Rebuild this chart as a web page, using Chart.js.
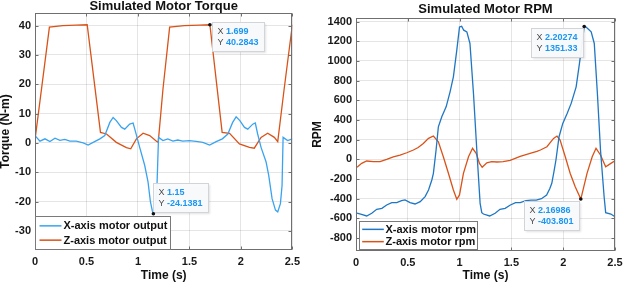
<!DOCTYPE html>
<html><head><meta charset="utf-8">
<script src="https://cdn.jsdelivr.net/npm/chart.js@4/dist/chart.umd.min.js"></script>
<style>
html,body{margin:0;padding:0;background:#fff;width:640px;height:303px;overflow:hidden}
canvas{position:absolute;top:0}
#c1{left:0}
#c2{left:305px}
</style></head><body>
<canvas id="c1" width="305" height="303" style="width:305px;height:303px"></canvas>
<canvas id="c2" width="335" height="303" style="width:335px;height:303px"></canvas>
<script>
const FONT = "'Liberation Sans', Arial, Helvetica, sans-serif";

// ---------- Torque chart ----------
const torqueXTime  = [0,0.048,0.097,0.145,0.194,0.242,0.29,0.339,0.4,0.468,0.516,0.565,0.63,0.678,0.727,0.759,0.79,0.84,0.872,0.92,0.953,0.978,1.017,1.066,1.098,1.121,1.14,1.15,1.17,1.185,1.2,1.243,1.29,1.34,1.387,1.436,1.5,1.565,1.63,1.696,1.76,1.82,1.873,1.92,1.954,1.99,2.035,2.067,2.115,2.14,2.163,2.196,2.245,2.27,2.303,2.336,2.358,2.384,2.4,2.41,2.454,2.5];
const torqueXValue = [2.5,0.6,1.4,0.5,1.6,0.9,1.2,0.6,0.6,0,-0.7,0.2,1.4,2.5,7.0,8.7,7.6,5.3,4.7,6.4,6.8,3.6,-1.5,-7.7,-13.3,-20,-23.2,-24.1381,-22.5,-14.5,1.9,0.8,1.4,0.6,1.0,0.6,0.8,0.5,0.2,-0.7,0.45,1.4,3.05,7.0,8.9,7.6,5.3,4.7,6.4,6.8,3.05,-1.5,-6.5,-11,-19,-22.9,-23.5,-20.7,-14.5,1.9,0.8,1.4];
const torqueZTime  = [0,0.14,0.27,0.40,0.507,0.636,0.695,0.79,0.888,0.93,0.985,1.05,1.114,1.18,1.197,1.243,1.308,1.45,1.60,1.699,1.818,1.89,1.986,2.083,2.13,2.196,2.26,2.325,2.358,2.42,2.5];
const torqueZValue = [1,39.5,40.0,40.2,40.3,3.6,3.05,0.2,-1.6,-2.0,1.4,3.3,2.5,0.6,0.2,18.3,39.5,40.0,40.2,40.2843,3.6,3.3,-0.3,-1.5,-1.8,1.9,3.3,1.9,0.45,18.3,40.3];
const torqueTicks  = [-30,-20,-10,0,10,20,30,40];
const torqueLabels = ['X-axis motor output','Z-axis motor output'];
const torqueTipX   = [1.699, 1.15];
const torqueTipY   = [40.2843, -24.1381];

// ---------- RPM chart ----------
const rpmXTime  = [0.01,0.053,0.103,0.152,0.2,0.25,0.296,0.345,0.393,0.44,0.473,0.522,0.57,0.62,0.667,0.7,0.732,0.747,0.773,0.795,0.828,0.87,0.908,0.94,0.973,0.999,1.02,1.04,1.07,1.1,1.134,1.166,1.198,1.214,1.23,1.29,1.343,1.39,1.44,1.49,1.54,1.585,1.64,1.69,1.74,1.79,1.84,1.87,1.89,1.91,1.93,1.96,1.996,2.038,2.077,2.125,2.157,2.19,2.20274,2.22,2.236,2.27,2.3,2.33,2.36,2.395,2.41,2.46,2.5];
const rpmXValue = [-548,-560,-576,-548,-508,-498,-464,-440,-440,-420,-413,-440,-454,-430,-379,-312,-210,-142,95,331,433,534,686,839,1110,1346,1353,1313,1296,1178,670,95,-447,-542,-556,-576,-548,-508,-498,-464,-440,-440,-420,-415,-415,-400,-363,-300,-244,-130,-7,230,365,467,569,737,975,1245,1351.33,1345,1330,1296,1178,670,95,-380,-542,-556,-583];
const rpmZTime  = [0.01,0.055,0.103,0.167,0.232,0.296,0.36,0.425,0.49,0.554,0.6,0.65,0.7,0.747,0.795,0.843,0.892,0.94,0.973,0.999,1.037,1.086,1.125,1.16,1.192,1.218,1.263,1.31,1.36,1.42,1.488,1.585,1.68,1.746,1.78,1.843,1.907,1.94,1.97,2.02,2.067,2.116,2.16986,2.18,2.23,2.28,2.317,2.36,2.41,2.46,2.5];
const rpmZValue = [-81,-41,-17,-24,-24,0,26,44,67,95,120,162,213,237,179,26,-142,-312,-406,-362,-142,26,112,61,-41,-81,-35,-24,-27,-24,-10,30,61,80,95,128,213,237,196,26,-142,-278,-403.801,-362,-142,26,112,44,-75,-41,-14];
const rpmTicks  = [-800,-600,-400,-200,0,200,400,600,800,1000,1200,1400];
const rpmLabels = ['X-axis motor rpm','Z-axis motor rpm'];
const rpmTipX   = [2.20274, 2.16986];
const rpmTipY   = [1351.33, -403.801];

const timeTicks = [0,0.5,1,1.5,2,2.5];

const pts = (t, v) => t.map((x, i) => ({x: x, y: v[i]}));

// MATLAB style box with inward tick marks
const boxPlugin = {
  id: 'matlabBox',
  afterDatasetsDraw(chart) {
    const {ctx, chartArea: a, scales: {x, y}} = chart;
    const L = Math.round(a.left) + 0.5, R = Math.round(a.right) - 0.5;
    const T = Math.round(a.top) + 0.5, B = Math.round(a.bottom) - 0.5;
    ctx.save();
    ctx.strokeStyle = '#6f6f6f';
    ctx.lineWidth = 1;
    ctx.strokeRect(L, T, R - L, B - T);
    ctx.beginPath();
    x.ticks.forEach(tk => {
      const p = Math.round(x.getPixelForValue(tk.value)) + 0.5;
      ctx.moveTo(p, B); ctx.lineTo(p, B - 3);
      ctx.moveTo(p, T); ctx.lineTo(p, T + 3);
    });
    y.ticks.forEach(tk => {
      const p = Math.round(y.getPixelForValue(tk.value)) + 0.5;
      ctx.moveTo(L, p); ctx.lineTo(L + 3, p);
      ctx.moveTo(R, p); ctx.lineTo(R - 3, p);
    });
    ctx.stroke();
    ctx.restore();
  }
};

// Legend inside the plot (lower-left)
const legendPlugin = {
  id: 'matlabLegend',
  afterDraw(chart, args, o) {
    const {ctx, chartArea: a} = chart;
    const ds = chart.data.datasets;
    ctx.save();
    ctx.font = 'bold 11px ' + FONT;
    const tw = Math.max(...ds.map(d => ctx.measureText(d.label).width));
    const w = o.padL + o.sample + o.gap + tw + o.padR;
    const h = o.padV * 2 + o.rowH * ds.length;
    const left = Math.round(a.left + o.offX) + 0.5;
    const top = Math.round(a.bottom - o.offB - h) + 0.5;
    ctx.fillStyle = '#ffffff';
    ctx.fillRect(left, top, w, h);
    ctx.strokeStyle = '#7a7a7a';
    ctx.lineWidth = 1;
    ctx.strokeRect(left, top, Math.round(w), Math.round(h));
    ds.forEach((d, i) => {
      const cy = top + o.padV + o.rowH * (i + 0.5);
      ctx.strokeStyle = d.borderColor;
      ctx.lineWidth = 1.5;
      ctx.beginPath();
      ctx.moveTo(left + o.padL, cy);
      ctx.lineTo(left + o.padL + o.sample, cy);
      ctx.stroke();
      ctx.fillStyle = '#111';
      ctx.textBaseline = 'middle';
      ctx.textAlign = 'left';
      ctx.fillText(d.label, left + o.padL + o.sample + o.gap, cy + 0.5);
    });
    ctx.restore();
  }
};

// Data tips
const tipPlugin = {
  id: 'dataTips',
  afterDraw(chart, args, o) {
    const {ctx, scales: {x, y}} = chart;
    ctx.save();
    o.xs.forEach((xv, i) => {
      const yv = o.ys[i];
      const px = x.getPixelForValue(xv), py = y.getPixelForValue(yv);
      const lines = [['X ', String(xv)], ['Y ', String(yv)]];
      let tw = 0;
      lines.forEach(l => {
        ctx.font = '9px ' + FONT; const a = ctx.measureText(l[0]).width;
        ctx.font = 'bold 9px ' + FONT; const b = ctx.measureText(l[1]).width;
        tw = Math.max(tw, a + b);
      });
      const w = Math.round(tw + 11), h = 29;
      const pl = o.place[i];
      let bx, by;
      if (pl === 'se') { bx = px + 2; by = py - 2.5; }
      else if (pl === 'ne') { bx = px - 0.5; by = py - 2 - h; }
      else if (pl === 'sw') { bx = px - 1.5 - w; by = py + 1.5; }
      bx = Math.round(bx) + 0.5; by = Math.round(by) + 0.5;
      ctx.shadowColor = 'rgba(0,0,0,0.12)';
      ctx.shadowBlur = 2; ctx.shadowOffsetX = 1; ctx.shadowOffsetY = 1;
      ctx.fillStyle = 'rgba(249,250,252,0.97)';
      ctx.fillRect(bx, by, w, h);
      ctx.shadowColor = 'transparent';
      ctx.strokeStyle = '#d2d4d8';
      ctx.lineWidth = 1;
      ctx.strokeRect(bx, by, w, h);
      lines.forEach((l, k) => {
        const cy = by + 9 + k * 11;
        ctx.textBaseline = 'middle'; ctx.textAlign = 'left';
        ctx.font = '9px ' + FONT; ctx.fillStyle = '#4a4a4a';
        ctx.fillText(l[0], bx + 5, cy);
        const a = ctx.measureText(l[0]).width;
        ctx.font = 'bold 9px ' + FONT; ctx.fillStyle = '#1b96f3';
        ctx.fillText(l[1], bx + 5 + a, cy);
      });
      ctx.fillStyle = '#111';
      ctx.beginPath(); ctx.arc(px, py, 1.8, 0, Math.PI * 2); ctx.fill();
    });
    ctx.restore();
  }
};

function makeChart(id, cfg) {
  const tickFont = {family: FONT, size: 11, weight: 'bold'};
  return new Chart(document.getElementById(id), {
    type: 'line',
    data: {datasets: cfg.datasets},
    options: {
      responsive: false,
      animation: false,
      devicePixelRatio: 1,
      layout: {padding: cfg.padding},
      elements: {point: {radius: 0}, line: {tension: 0, borderWidth: 1.3}},
      scales: {
        x: {
          type: 'linear', min: 0, max: 2.5,
          afterBuildTicks: s => { s.ticks = timeTicks.map(v => ({value: v})); },
          afterFit: s => { s.height = cfg.xH; },
          grid: {color: 'rgba(0,0,0,0.10)', lineWidth: 1, drawTicks: false},
          border: {display: false},
          ticks: {font: tickFont, color: '#1a1a1a', padding: 5, maxRotation: 0, autoSkip: false, callback: v => String(v)},
          title: {display: true, text: 'Time (s)', color: '#111', font: {family: FONT, size: 12, weight: 'bold', lineHeight: 1.2}, padding: {top: 0, bottom: cfg.xTitlePad}}
        },
        y: {
          type: 'linear', min: cfg.yMin, max: cfg.yMax,
          afterBuildTicks: s => { s.ticks = cfg.yTicks.map(v => ({value: v})); },
          afterFit: s => { s.width = cfg.yW; },
          grid: {color: 'rgba(0,0,0,0.10)', lineWidth: 1, drawTicks: false},
          border: {display: false},
          ticks: {font: tickFont, color: '#1a1a1a', padding: 4, autoSkip: false, callback: v => String(v)},
          title: {display: true, text: cfg.yTitle, color: '#111', font: {family: FONT, size: 12, weight: 'bold', lineHeight: 1}, padding: {top: cfg.yTitlePad, bottom: 0}}
        }
      },
      plugins: {
        legend: {display: false},
        tooltip: {enabled: false},
        title: {display: true, text: cfg.title, fullSize: false, color: '#111',
                font: {family: FONT, size: 13, weight: 'bold', lineHeight: 1}, padding: cfg.titlePad},
        matlabLegend: cfg.legend,
        dataTips: cfg.tips
      }
    },
    plugins: [boxPlugin, legendPlugin, tipPlugin]
  });
}

const ORANGE = '#d95319';

makeChart('c1', {
  datasets: [
    {label: torqueLabels[0], data: pts(torqueXTime, torqueXValue), borderColor: '#3aa3ef', borderWidth: 1.3},
    {label: torqueLabels[1], data: pts(torqueZTime, torqueZValue), borderColor: ORANGE, borderWidth: 1.3}
  ],
  padding: {left: 0, right: 12, top: 0, bottom: 13},
  xH: 40, yW: 35, xTitlePad: 7, yTitlePad: 0,
  yMin: -36.5, yMax: 44.3, yTicks: torqueTicks, yTitle: 'Torque (N-m)',
  title: 'Simulated Motor Torque', titlePad: {top: 0, bottom: 0},
  legend: {offX: 0, offB: 1.3, padL: 4, sample: 22, gap: 2, padR: 3, padV: 2.2, rowH: 14.3},
  tips: {xs: torqueTipX, ys: torqueTipY, place: ['se', 'ne']}
});

makeChart('c2', {
  datasets: [
    {label: rpmLabels[0], data: pts(rpmXTime, rpmXValue), borderColor: '#1f77c4', borderWidth: 1.3},
    {label: rpmLabels[1], data: pts(rpmZTime, rpmZValue), borderColor: ORANGE, borderWidth: 1.3}
  ],
  padding: {left: 0, right: 25, top: 0, bottom: 12},
  xH: 40, yW: 51, xTitlePad: 8, yTitlePad: 7,
  yMin: -932, yMax: 1437, yTicks: rpmTicks, yTitle: 'RPM',
  title: 'Simulated Motor RPM', titlePad: {top: 3, bottom: 2},
  legend: {offX: 3, offB: 2, padL: 2.7, sample: 21.6, gap: 1.7, padR: 2, padV: 1.7, rowH: 12.3},
  tips: {xs: rpmTipX, ys: rpmTipY, place: ['sw', 'sw']}
});
</script>
</body></html>
